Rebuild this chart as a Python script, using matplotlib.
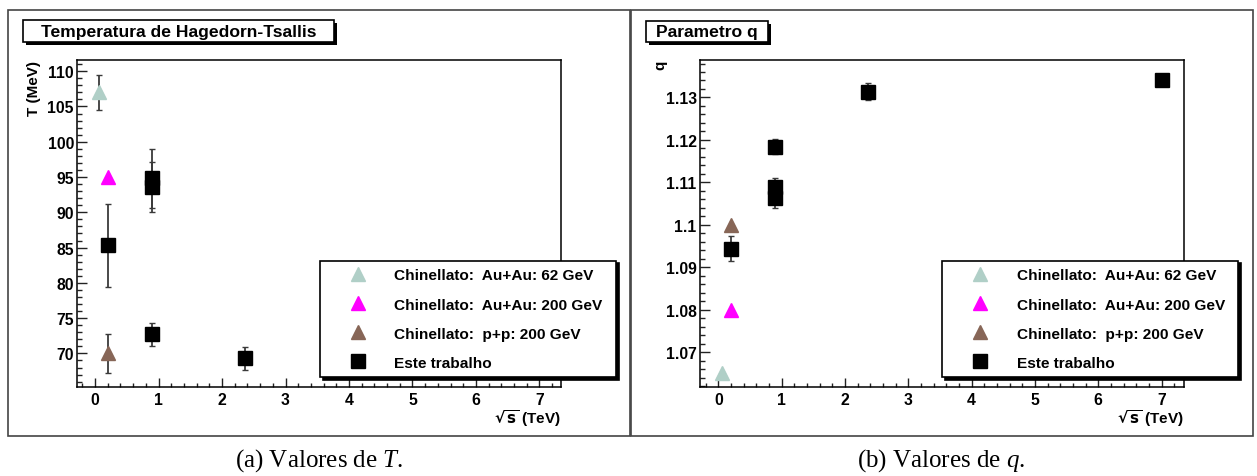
import matplotlib
matplotlib.use('Agg')
import matplotlib.pyplot as plt
from matplotlib.ticker import MultipleLocator, FuncFormatter
from matplotlib.lines import Line2D
from matplotlib.patches import Rectangle

# ---------------- data ----------------
labels = ["Chinellato:  Au+Au: 62 GeV", "Chinellato:  Au+Au: 200 GeV",
          "Chinellato:  p+p: 200 GeV", "Este trabalho"]
colors = ["#b0cfc7", "#ff00ff", "#876657", "black"]

# Temperature (MeV)
x_au62 = [0.062]; T_au62 = [107.0]; Terr_au62 = [2.5]
x_au200 = [0.2]; T_au200 = [95.0]; Terr_au200 = [0.0]
x_pp200 = [0.2]; T_pp200 = [70.0]; Terr_pp200 = [2.8]
x_este_T = [0.2, 0.9, 0.9, 0.9, 2.36]
T_este = [85.3, 94.8, 93.6, 72.7, 69.3]
Terr_este = [5.9, 4.2, 3.6, 1.6, 1.65]

# q parameter
q_au62 = [1.065]; qerr_au62 = [0.0]
q_au200 = [1.080]; qerr_au200 = [0.0]
q_pp200 = [1.100]; qerr_pp200 = [0.0]
x_este_q = [0.2, 0.9, 0.9, 0.9, 2.36, 7.0]
q_este = [1.0944, 1.1184, 1.1089, 1.1062, 1.1314, 1.1341]
qerr_este = [0.0029, 0.0018, 0.0022, 0.0022, 0.0020, 0.0005]

titles = ["Temperatura de Hagedorn-Tsallis", "Parametro q"]
ylabels = ["T (MeV)", "q"]
xlabel = r"$\sqrt{\mathbf{s}}$ (TeV)"
captions = ["(a) Valores de $T$.", "(b) Valores de $q$."]

# ---------------- style ----------------
plt.rcParams['font.family'] = ['Liberation Sans', 'DejaVu Sans']
plt.rcParams['font.weight'] = 'bold'
plt.rcParams['mathtext.fontset'] = 'custom'
plt.rcParams['mathtext.rm'] = 'Liberation Sans:weight=bold'
plt.rcParams['mathtext.it'] = 'Liberation Serif:italic:weight=normal'
plt.rcParams['mathtext.bf'] = 'Liberation Sans:weight=bold'

W, H = 1257, 477
fig = plt.figure(figsize=(W / 100, H / 100), dpi=100)


def fx(px):
    return px / W


def fy(py):
    return 1 - py / H


def add_axes(l, t, r, b):
    return fig.add_axes([fx(l), fy(b), (r - l) / W, (b - t) / H])


def box(l, t, r, b, shadow=3, lw=1.2, ec='black'):
    if shadow:
        fig.add_artist(Rectangle((fx(l + shadow), fy(b + shadow)), (r - l) / W, (b - t) / H,
                                 transform=fig.transFigure, facecolor='black',
                                 edgecolor='black', lw=0, zorder=5))
    fig.add_artist(Rectangle((fx(l), fy(b)), (r - l) / W, (b - t) / H,
                             transform=fig.transFigure, facecolor='white',
                             edgecolor=ec, lw=lw, zorder=6))


# panel frames
fig.add_artist(Rectangle((fx(8.3), fy(437.3)), (630 - 8.3) / W, (437.3 - 11) / H,
                         transform=fig.transFigure, fill=False, edgecolor='#444444', lw=1.2))
fig.add_artist(Rectangle((fx(630.5), fy(437.3)), (1253.3 - 630.5) / W, (437.3 - 11) / H,
                         transform=fig.transFigure, fill=False, edgecolor='#444444', lw=1.2))

axL = add_axes(77.3, 60.7, 560.7, 388.3)
axR = add_axes(700, 60.7, 1184, 388.3)

tick_fs = 11.3
mk = 9.5
ebkw = dict(ls='none', ecolor='#3a3a3a', elinewidth=1.3, capsize=2.2, capthick=1.0)


def draw(ax, series):
    for (x, y, e, c, m) in series:
        ax.errorbar(x, y, yerr=e, marker='none', **ebkw, zorder=2)
        ax.plot(x, y, ls='none', marker=m, color=c, mec=c, ms=mk, zorder=3)


draw(axL, [(x_au62, T_au62, Terr_au62, colors[0], '^'),
           (x_au200, T_au200, Terr_au200, colors[1], '^'),
           (x_pp200, T_pp200, Terr_pp200, colors[2], '^'),
           (x_este_T, T_este, Terr_este, colors[3], 's')])
draw(axR, [(x_au62, q_au62, qerr_au62, colors[0], '^'),
           (x_au200, q_au200, qerr_au200, colors[1], '^'),
           (x_pp200, q_pp200, qerr_pp200, colors[2], '^'),
           (x_este_q, q_este, qerr_este, colors[3], 's')])

axL.set_xlim(-0.279, 7.334)
axL.set_ylim(65.2, 111.63)
axR.set_xlim(-0.289, 7.354)
axR.set_ylim(1.0617, 1.1389)

axL.yaxis.set_major_locator(MultipleLocator(5))
axL.yaxis.set_minor_locator(MultipleLocator(1))
axR.yaxis.set_major_locator(MultipleLocator(0.01))
axR.yaxis.set_minor_locator(MultipleLocator(0.002))
axR.yaxis.set_major_formatter(FuncFormatter(lambda v, p: f"{v:.2f}".rstrip('0')))

for i, ax in enumerate([axL, axR]):
    ax.xaxis.set_major_locator(MultipleLocator(1))
    ax.xaxis.set_minor_locator(MultipleLocator(0.2))
    ax.tick_params(which='both', direction='in', top=False, right=False,
                   labelsize=tick_fs, width=1.0, color='#222222')
    ax.tick_params(axis='y', which='major', length=7.2, pad=2.4)
    ax.tick_params(axis='y', which='minor', length=3.6)
    ax.tick_params(axis='x', which='major', length=6.5, pad=3.6)
    ax.tick_params(axis='x', which='minor', length=3.2)
    for s in ax.spines.values():
        s.set_linewidth(1.1)
    ax.set_xlabel(xlabel, fontsize=11, fontweight='bold', loc='right',
                  math_fontfamily='dejavusans')
    ax.xaxis.set_label_coords(1.0, -0.093)
    ax.xaxis.label.set_va('center')
    ax.set_ylabel(ylabels[i], fontsize=11, fontweight='bold', loc='top')

axL.yaxis.set_label_coords(-0.075, 1.0)
axR.yaxis.set_label_coords(-0.068, 1.0)

# legends
fs_leg = 11.1
handles = [Line2D([], [], ls='none', marker=m, color=c, mec=c, ms=mk)
           for c, m in zip(colors, ['^', '^', '^', 's'])]
for ax, (l, r) in zip([axL, axR], [(320, 616), (942.3, 1238.3)]):
    leg = ax.legend(handles, labels, loc='upper left',
                    bbox_to_anchor=(fx(l), fy(261.7), (r - l) / W, 0),
                    bbox_transform=fig.transFigure, mode='expand', borderaxespad=0,
                    prop={'size': fs_leg, 'weight': 'bold'}, numpoints=1,
                    borderpad=0.5, handlelength=3.9, handletextpad=0.43,
                    labelspacing=0.98, fancybox=False, framealpha=1,
                    edgecolor='black', shadow={'color': 'black', 'alpha': 1})
    leg.get_frame().set_linewidth(1.2)
    leg.set_zorder(10)

# title boxes
box(22.7, 21.3, 334, 43.3)
fig.text(fx(178.3), fy(32.3), titles[0], ha='center', va='center',
         fontsize=12.6, fontweight='bold', zorder=7)
box(646, 22, 767.7, 43.3)
fig.text(fx(706.8), fy(32.6), titles[1], ha='center', va='center',
         fontsize=12.6, fontweight='bold', zorder=7)

# captions
for cx, cap in zip([319, 941.5], captions):
    fig.text(fx(cx), fy(461), cap, ha='center', va='center',
             fontfamily='Liberation Serif', fontweight='normal', fontsize=18)

fig.savefig('out.png', dpi=100)
